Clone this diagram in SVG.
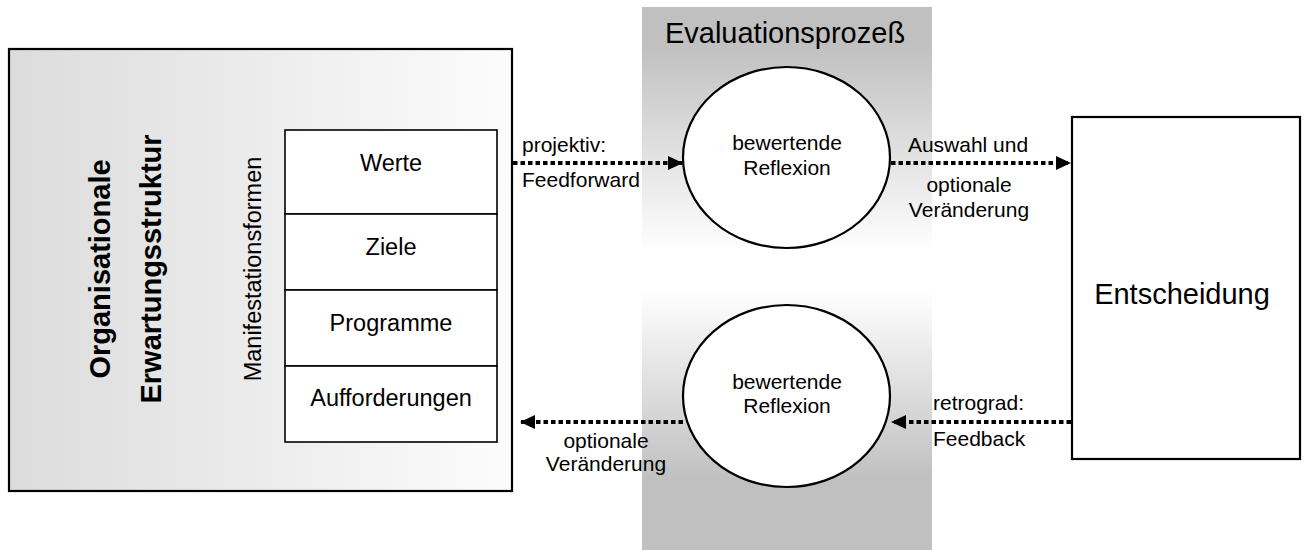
<svg xmlns="http://www.w3.org/2000/svg" width="1304" height="550" viewBox="0 0 1304 550">
  <style>
    text { font-family: "Liberation Sans", Arial, sans-serif; fill: #000; }
    .t23 { font-size: 23.5px; }
    .t21 { font-size: 21px; }
    .t29 { font-size: 29px; }
    .bold { font-weight: bold; }
    .mid { text-anchor: middle; }
    .frame { stroke: #000; stroke-width: 2.2; }
    .cell { fill: #fff; stroke: #000; stroke-width: 1.6; }
    .flow { fill: none; stroke: #000; stroke-width: 4; stroke-dasharray: 4.5 3; }
  </style>
  <defs>
    <linearGradient id="gLeft" x1="0" y1="0" x2="1" y2="0">
      <stop offset="0" stop-color="#dcdcdc"/>
      <stop offset="1" stop-color="#fcfcfc"/>
    </linearGradient>
    <linearGradient id="gBand" gradientUnits="userSpaceOnUse" x1="0" y1="7" x2="0" y2="550">
      <stop offset="0" stop-color="#c0c0c0"/>
      <stop offset="0.07" stop-color="#c0c0c0"/>
      <stop offset="0.45" stop-color="#ffffff"/>
      <stop offset="0.52" stop-color="#ffffff"/>
      <stop offset="0.87" stop-color="#c0c0c0"/>
      <stop offset="1" stop-color="#c0c0c0"/>
    </linearGradient>
    <marker id="head" viewBox="0 0 15 14" refX="15" refY="7" markerWidth="15" markerHeight="14" markerUnits="userSpaceOnUse" orient="auto">
      <path d="M0,0 L15,7 L0,14 Z" fill="#000"/>
    </marker>
  </defs>

  <!-- evaluation band -->
  <g id="evaluationsprozess">
    <rect x="642" y="7" width="290" height="543" fill="url(#gBand)"/>
    <text class="t29 mid" x="785" y="43">Evaluationsprozeß</text>
  </g>

  <!-- organisational expectation structure -->
  <g id="erwartungsstruktur">
    <rect class="frame" x="9" y="49" width="503" height="442" fill="url(#gLeft)"/>
    <text class="t29 bold mid" transform="translate(110,269) rotate(-90)">Organisationale</text>
    <text class="t29 bold mid" transform="translate(161,269) rotate(-90)">Erwartungsstruktur</text>
    <text class="t23 mid" transform="translate(261,269) rotate(-90)">Manifestationsformen</text>
  </g>

  <g id="manifestationsformen">
    <rect class="cell" x="285" y="130" width="212" height="84"/>
    <rect class="cell" x="285" y="214" width="212" height="76"/>
    <rect class="cell" x="285" y="290" width="212" height="76"/>
    <rect class="cell" x="285" y="366" width="212" height="76"/>
    <text class="t23 mid" x="391" y="171">Werte</text>
    <text class="t23 mid" x="391" y="255">Ziele</text>
    <text class="t23 mid" x="391" y="331">Programme</text>
    <text class="t23 mid" x="391" y="406">Aufforderungen</text>
  </g>

  <g id="reflexion-oben">
    <ellipse class="frame" cx="786.5" cy="157.5" rx="103.5" ry="90.5" fill="#fff"/>
    <text class="t21 mid" x="787" y="150">bewertende</text>
    <text class="t21 mid" x="787" y="175">Reflexion</text>
  </g>

  <g id="reflexion-unten">
    <ellipse class="frame" cx="786.5" cy="396" rx="103.5" ry="91" fill="#fff"/>
    <text class="t21 mid" x="787" y="389">bewertende</text>
    <text class="t21 mid" x="787" y="413">Reflexion</text>
  </g>

  <g id="entscheidung">
    <rect class="frame" x="1072" y="117" width="228" height="342" fill="#fff"/>
    <text class="t29 mid" x="1182" y="304">Entscheidung</text>
  </g>

  <!-- connectors -->
  <g id="connectors">
    <line class="flow" x1="513" y1="163" x2="683" y2="163" marker-end="url(#head)"/>
    <line class="flow" x1="891" y1="163" x2="1071" y2="163" marker-end="url(#head)"/>
    <line class="flow" x1="1071" y1="422" x2="891" y2="422" marker-end="url(#head)"/>
    <line class="flow" x1="683" y1="422" x2="520" y2="422" marker-end="url(#head)"/>
  </g>

  <g id="connector-labels">
    <text class="t21" x="522" y="152">projektiv:</text>
    <text class="t21" x="522" y="187">Feedforward</text>
    <text class="t21 mid" x="968" y="152">Auswahl und</text>
    <text class="t21 mid" x="969" y="192">optionale</text>
    <text class="t21 mid" x="969" y="217">Veränderung</text>
    <text class="t21" x="933" y="410">retrograd:</text>
    <text class="t21" x="933" y="446">Feedback</text>
    <text class="t21 mid" x="606" y="448">optionale</text>
    <text class="t21 mid" x="606" y="471">Veränderung</text>
  </g>
</svg>
